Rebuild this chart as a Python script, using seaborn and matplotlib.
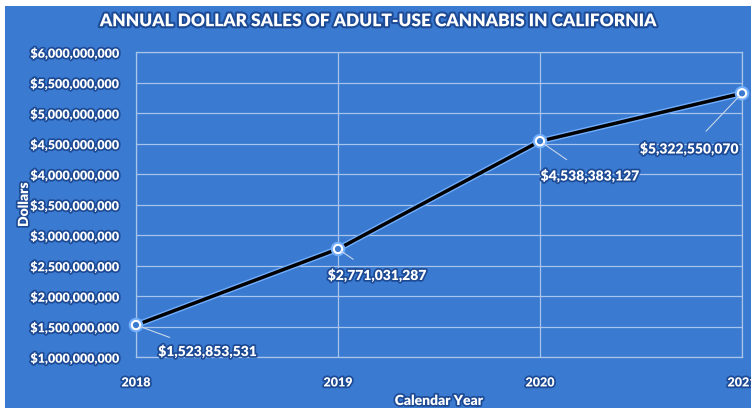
import matplotlib
matplotlib.use('Agg')
import matplotlib.pyplot as plt
import matplotlib.patheffects as pe
from matplotlib.patches import Rectangle
from matplotlib.ticker import FuncFormatter
import seaborn as sns
import pandas as pd

# Data
years = [2018, 2019, 2020, 2021]
sales = [1523853531, 2771031287, 4538383127, 5322550070]
# label offsets (points) relative to each point
label_offsets = [(16, -19), (28, -19), (36, -25), (-38, -40)]
label_align = ['left', 'center', 'center', 'center']

BLUE = '#3a7ad0'
GRID = '#a9c4ec'
OUTLINE = [pe.withStroke(linewidth=2.5, foreground='#1d4a95')]

sns.set_theme(style='white')
plt.rcParams['font.family'] = ['Lato', 'DejaVu Sans']
plt.rcParams['font.weight'] = 'heavy'

df = pd.DataFrame({'Calendar Year': years, 'Dollars': sales})

fig = plt.figure(figsize=(7.51, 4.08), dpi=100)
fig.patch.set_facecolor('white')
fig.patches.append(Rectangle((5 / 751, 0), 1, (408 - 6) / 408, transform=fig.transFigure,
                             facecolor=BLUE, edgecolor='none', zorder=-10))

ax = fig.add_axes([136 / 751, (408 - 357) / 408, (742 - 136) / 751, (357 - 52) / 408])
ax.set_facecolor(BLUE)

sns.lineplot(data=df, x='Calendar Year', y='Dollars', ax=ax, color='black', linewidth=2.5,
             marker='o', markersize=6, markerfacecolor=BLUE, markeredgecolor='white',
             markeredgewidth=1.5, clip_on=False, zorder=5,
             path_effects=[pe.Stroke(linewidth=4.5, foreground='#72aefc'), pe.Normal()])

ax.set_xlim(2018, 2021)
ax.set_ylim(1e9, 6e9)
ax.set_xticks(years)
ax.set_yticks(range(1000000000, 6000000001, 500000000))
ax.yaxis.set_major_formatter(FuncFormatter(lambda v, p: f'${v:,.0f}'))
ax.grid(True, color=GRID, linewidth=0.9)
for s in ax.spines.values():
    s.set_color(GRID)
    s.set_linewidth(0.9)
ax.tick_params(length=0, labelcolor='white', labelsize=9)
ax.tick_params(axis='y', pad=12)
ax.tick_params(axis='x', pad=14)
for lab in ax.get_xticklabels() + ax.get_yticklabels():
    lab.set_path_effects(OUTLINE)

ax.set_xlabel('Calendar Year', color='white', fontsize=10, fontweight='heavy',
              labelpad=4, path_effects=OUTLINE)
ax.set_ylabel('Dollars', color='white', fontsize=10, fontweight='heavy',
              labelpad=4, path_effects=OUTLINE)
ax.yaxis.set_label_coords(-0.175, 0.5)

for x, y, off, ha in zip(years, sales, label_offsets, label_align):
    ax.annotate(f'${y:,}', xy=(x, y), xytext=off, textcoords='offset points',
                ha=ha, va='center', color='white', fontsize=10, fontweight='heavy',
                path_effects=OUTLINE, annotation_clip=False, zorder=6,
                arrowprops=dict(arrowstyle='-', color='#c9d6ea', lw=0.8,
                                shrinkA=7, shrinkB=3))

fig.text(0.505, 0.948, 'ANNUAL DOLLAR SALES OF ADULT-USE CANNABIS IN CALIFORNIA',
         ha='center', va='center', color='white', fontsize=12.5, fontweight='heavy',
         path_effects=[pe.withStroke(linewidth=3, foreground='#1d4a95')])

fig.savefig('out.png', dpi=100, facecolor=fig.get_facecolor())
